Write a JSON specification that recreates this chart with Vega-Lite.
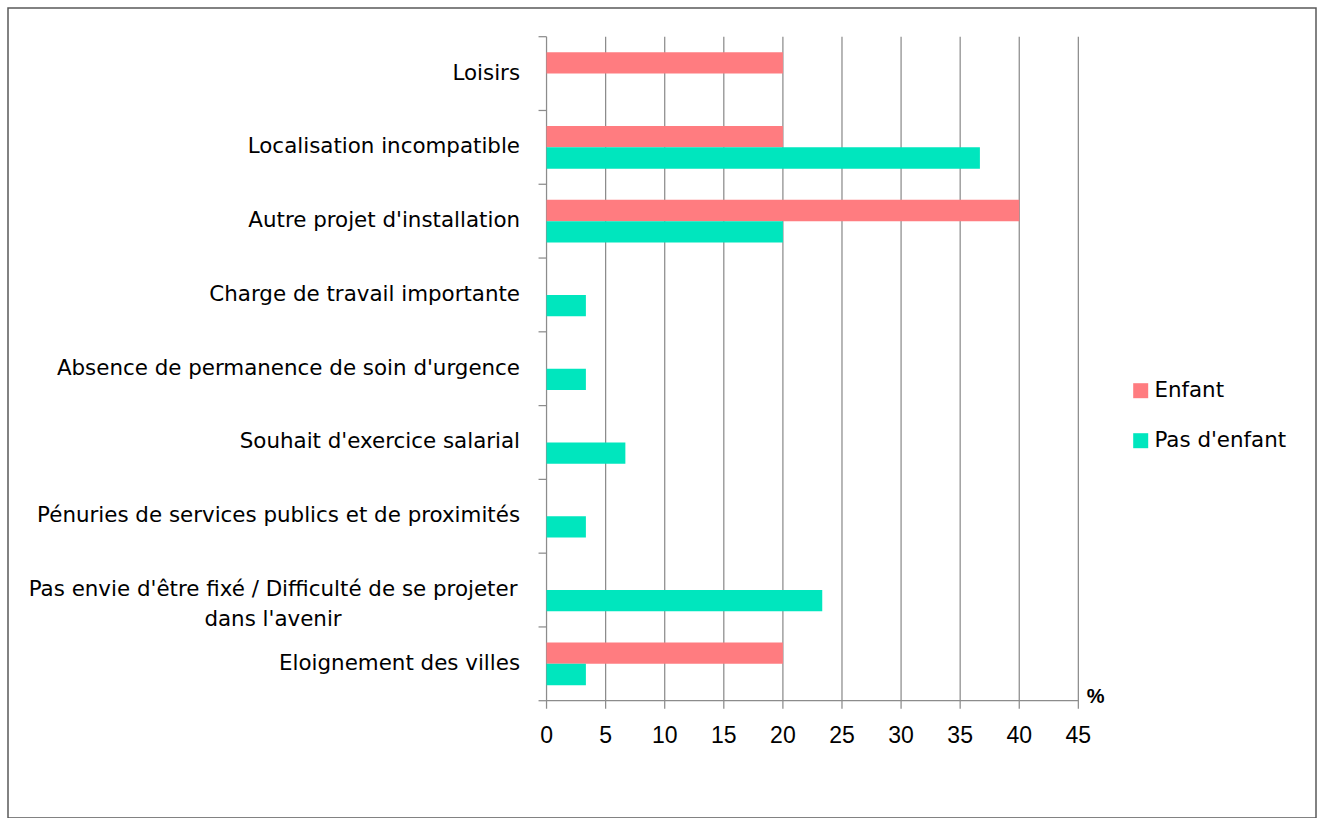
{
  "$schema": "https://vega.github.io/schema/vega-lite/v6.json",
  "autosize": {"type": "none"},
  "padding": {"left": 8, "top": 8, "right": 9, "bottom": 0},
  "width": 1308,
  "height": 810,
  "background": "white",
  "config": {
    "view": {"stroke": "#595959", "strokeWidth": 1.5},
    "font": "DejaVu Sans"
  },
  "datasets": {
    "bars": [
      {"motif": "Loisirs", "groupe": "Enfant", "pct": 20},
      {"motif": "Localisation incompatible", "groupe": "Enfant", "pct": 20},
      {"motif": "Localisation incompatible", "groupe": "Pas d'enfant", "pct": 36.67},
      {"motif": "Autre projet d'installation", "groupe": "Enfant", "pct": 40},
      {"motif": "Autre projet d'installation", "groupe": "Pas d'enfant", "pct": 20},
      {"motif": "Charge de travail importante", "groupe": "Pas d'enfant", "pct": 3.33},
      {"motif": "Absence de permanence de soin d'urgence", "groupe": "Pas d'enfant", "pct": 3.33},
      {"motif": "Souhait d'exercice salarial", "groupe": "Pas d'enfant", "pct": 6.67},
      {"motif": "Pénuries de services publics et de proximités", "groupe": "Pas d'enfant", "pct": 3.33},
      {"motif": "Pas envie d'être fixé / Difficulté de se projeter dans l'avenir", "groupe": "Pas d'enfant", "pct": 23.33},
      {"motif": "Eloignement des villes", "groupe": "Enfant", "pct": 20},
      {"motif": "Eloignement des villes", "groupe": "Pas d'enfant", "pct": 3.33}
    ],
    "grid": [
      {"v": 0}, {"v": 5}, {"v": 10}, {"v": 15}, {"v": 20},
      {"v": 25}, {"v": 30}, {"v": 35}, {"v": 40}, {"v": 45}
    ],
    "categories": [
      {"motif": "Loisirs"},
      {"motif": "Localisation incompatible"},
      {"motif": "Autre projet d'installation"},
      {"motif": "Charge de travail importante"},
      {"motif": "Absence de permanence de soin d'urgence"},
      {"motif": "Souhait d'exercice salarial"},
      {"motif": "Pénuries de services publics et de proximités"},
      {"motif": "Pas envie d'être fixé / Difficulté de se projeter dans l'avenir"},
      {"motif": "Eloignement des villes"}
    ],
    "libelle2": [
      {"motif": "Pas envie d'être fixé / Difficulté de se projeter dans l'avenir", "libelle": "Pas envie d'être fixé / Difficulté de se projeter\ndans l'avenir"}
    ],
    "axisline": [{"unite": "%"}]
  },
  "layer": [
    {
      "data": {"name": "grid"},
      "mark": {"type": "tick", "orient": "vertical", "size": 672, "yOffset": 4, "thickness": 1.25, "color": "#8C8C8C", "opacity": 1},
      "encoding": {
        "x": {"field": "v", "type": "quantitative", "axis": null,
              "scale": {"domain": [-45.57, 65.11], "nice": false, "zero": false}},
        "y": {"datum": "Absence de permanence de soin d'urgence", "type": "nominal", "axis": null,
              "scale": {"type": "band", "domain": ["Loisirs", "Localisation incompatible", "Autre projet d'installation", "Charge de travail importante", "Absence de permanence de soin d'urgence", "Souhait d'exercice salarial", "Pénuries de services publics et de proximités", "Pas envie d'être fixé / Difficulté de se projeter dans l'avenir", "Eloignement des villes"],
                        "paddingInner": 0, "paddingOuter": 0.9893, "align": 0.1966}}
      }
    },
    {
      "data": {"name": "axisline"},
      "mark": {"type": "rule", "color": "#8C8C8C", "strokeWidth": 1.25},
      "encoding": {
        "x": {"datum": 0, "type": "quantitative", "axis": null,
              "scale": {"domain": [-45.57, 65.11], "nice": false, "zero": false}},
        "x2": {"datum": 45},
        "y": {"datum": "Eloignement des villes", "type": "nominal", "bandPosition": 1, "axis": null,
              "scale": {"type": "band", "domain": ["Loisirs", "Localisation incompatible", "Autre projet d'installation", "Charge de travail importante", "Absence de permanence de soin d'urgence", "Souhait d'exercice salarial", "Pénuries de services publics et de proximités", "Pas envie d'être fixé / Difficulté de se projeter dans l'avenir", "Eloignement des villes"],
                        "paddingInner": 0, "paddingOuter": 0.9893, "align": 0.1966}}
      }
    },
    {
      "data": {"name": "categories"},
      "mark": {"type": "tick", "orient": "horizontal", "size": 8, "xOffset": -4, "thickness": 1.25, "color": "#8C8C8C", "opacity": 1},
      "encoding": {
        "x": {"datum": 0, "type": "quantitative", "axis": null,
              "scale": {"domain": [-45.57, 65.11], "nice": false, "zero": false}},
        "y": {"field": "motif", "type": "nominal", "bandPosition": 0, "axis": null,
              "scale": {"type": "band", "domain": ["Loisirs", "Localisation incompatible", "Autre projet d'installation", "Charge de travail importante", "Absence de permanence de soin d'urgence", "Souhait d'exercice salarial", "Pénuries de services publics et de proximités", "Pas envie d'être fixé / Difficulté de se projeter dans l'avenir", "Eloignement des villes"],
                        "paddingInner": 0, "paddingOuter": 0.9893, "align": 0.1966}}
      }
    },
    {
      "data": {"name": "axisline"},
      "mark": {"type": "tick", "orient": "horizontal", "size": 8, "xOffset": -4, "thickness": 1.25, "color": "#8C8C8C", "opacity": 1},
      "encoding": {
        "x": {"datum": 0, "type": "quantitative", "axis": null,
              "scale": {"domain": [-45.57, 65.11], "nice": false, "zero": false}},
        "y": {"datum": "Eloignement des villes", "type": "nominal", "bandPosition": 1, "axis": null,
              "scale": {"type": "band", "domain": ["Loisirs", "Localisation incompatible", "Autre projet d'installation", "Charge de travail importante", "Absence de permanence de soin d'urgence", "Souhait d'exercice salarial", "Pénuries de services publics et de proximités", "Pas envie d'être fixé / Difficulté de se projeter dans l'avenir", "Eloignement des villes"],
                        "paddingInner": 0, "paddingOuter": 0.9893, "align": 0.1966}}
      }
    },
    {
      "data": {"name": "bars"},
      "mark": {"type": "bar"},
      "encoding": {
        "y": {"field": "motif", "type": "nominal", "axis": null,
              "scale": {"type": "band", "domain": ["Loisirs", "Localisation incompatible", "Autre projet d'installation", "Charge de travail importante", "Absence de permanence de soin d'urgence", "Souhait d'exercice salarial", "Pénuries de services publics et de proximités", "Pas envie d'être fixé / Difficulté de se projeter dans l'avenir", "Eloignement des villes"],
                        "paddingInner": 0, "paddingOuter": 0.9893, "align": 0.1966}},
        "yOffset": {"field": "groupe", "type": "nominal",
                    "scale": {"domain": ["Enfant", "Pas d'enfant"], "paddingInner": 0, "paddingOuter": 0.732}},
        "x": {"field": "pct", "type": "quantitative", "stack": null, "axis": null,
              "scale": {"domain": [-45.57, 65.11], "nice": false, "zero": false}},
        "x2": {"datum": 0},
        "color": {
          "field": "groupe", "type": "nominal",
          "scale": {"domain": ["Enfant", "Pas d'enfant"], "range": ["#FF7C80", "#00E6BE"]},
          "legend": {
            "orient": "none", "legendX": 1122, "legendY": 372, "title": null, "padding": 0,
            "symbolType": "square", "symbolSize": 225, "symbolStrokeWidth": 0, "symbolOpacity": 1,
            "labelFont": "DejaVu Sans", "labelFontSize": 21.4, "labelColor": "black",
            "labelOffset": 3, "rowPadding": 27
          }
        }
      }
    },
    {
      "data": {"name": "categories"},
      "transform": [{"filter": "length(datum.motif) < 60"}],
      "mark": {"type": "text", "align": "right", "baseline": "middle", "dx": -26.5, "font": "DejaVu Sans", "fontSize": 21.4, "color": "black"},
      "encoding": {
        "x": {"datum": 0, "type": "quantitative", "axis": null,
              "scale": {"domain": [-45.57, 65.11], "nice": false, "zero": false}},
        "y": {"field": "motif", "type": "nominal", "axis": null,
              "scale": {"type": "band", "domain": ["Loisirs", "Localisation incompatible", "Autre projet d'installation", "Charge de travail importante", "Absence de permanence de soin d'urgence", "Souhait d'exercice salarial", "Pénuries de services publics et de proximités", "Pas envie d'être fixé / Difficulté de se projeter dans l'avenir", "Eloignement des villes"],
                        "paddingInner": 0, "paddingOuter": 0.9893, "align": 0.1966}},
        "text": {"field": "motif", "type": "nominal"}
      }
    },
    {
      "data": {"name": "libelle2"},
      "mark": {"type": "text", "align": "center", "baseline": "middle", "dx": -273.5, "lineBreak": "\n", "lineHeight": 30, "font": "DejaVu Sans", "fontSize": 21.4, "color": "black"},
      "encoding": {
        "x": {"datum": 0, "type": "quantitative", "axis": null,
              "scale": {"domain": [-45.57, 65.11], "nice": false, "zero": false}},
        "y": {"field": "motif", "type": "nominal", "axis": null,
              "scale": {"type": "band", "domain": ["Loisirs", "Localisation incompatible", "Autre projet d'installation", "Charge de travail importante", "Absence de permanence de soin d'urgence", "Souhait d'exercice salarial", "Pénuries de services publics et de proximités", "Pas envie d'être fixé / Difficulté de se projeter dans l'avenir", "Eloignement des villes"],
                        "paddingInner": 0, "paddingOuter": 0.9893, "align": 0.1966}},
        "text": {"field": "libelle", "type": "nominal"}
      }
    },
    {
      "data": {"name": "grid"},
      "mark": {"type": "text", "align": "center", "baseline": "middle", "dy": 35, "font": "Liberation Sans", "fontSize": 23, "color": "black"},
      "encoding": {
        "x": {"field": "v", "type": "quantitative", "axis": null,
              "scale": {"domain": [-45.57, 65.11], "nice": false, "zero": false}},
        "y": {"datum": "Eloignement des villes", "type": "nominal", "bandPosition": 1, "axis": null,
              "scale": {"type": "band", "domain": ["Loisirs", "Localisation incompatible", "Autre projet d'installation", "Charge de travail importante", "Absence de permanence de soin d'urgence", "Souhait d'exercice salarial", "Pénuries de services publics et de proximités", "Pas envie d'être fixé / Difficulté de se projeter dans l'avenir", "Eloignement des villes"],
                        "paddingInner": 0, "paddingOuter": 0.9893, "align": 0.1966}},
        "text": {"field": "v", "type": "quantitative", "format": "d"}
      }
    },
    {
      "data": {"name": "axisline"},
      "mark": {"type": "text", "align": "center", "baseline": "middle", "dx": 17.2, "dy": -4, "font": "Liberation Sans", "fontSize": 20, "fontWeight": "bold", "color": "black"},
      "encoding": {
        "x": {"datum": 45, "type": "quantitative", "axis": null,
              "scale": {"domain": [-45.57, 65.11], "nice": false, "zero": false}},
        "y": {"datum": "Eloignement des villes", "type": "nominal", "bandPosition": 1, "axis": null,
              "scale": {"type": "band", "domain": ["Loisirs", "Localisation incompatible", "Autre projet d'installation", "Charge de travail importante", "Absence de permanence de soin d'urgence", "Souhait d'exercice salarial", "Pénuries de services publics et de proximités", "Pas envie d'être fixé / Difficulté de se projeter dans l'avenir", "Eloignement des villes"],
                        "paddingInner": 0, "paddingOuter": 0.9893, "align": 0.1966}},
        "text": {"field": "unite", "type": "nominal"}
      }
    }
  ]
}
